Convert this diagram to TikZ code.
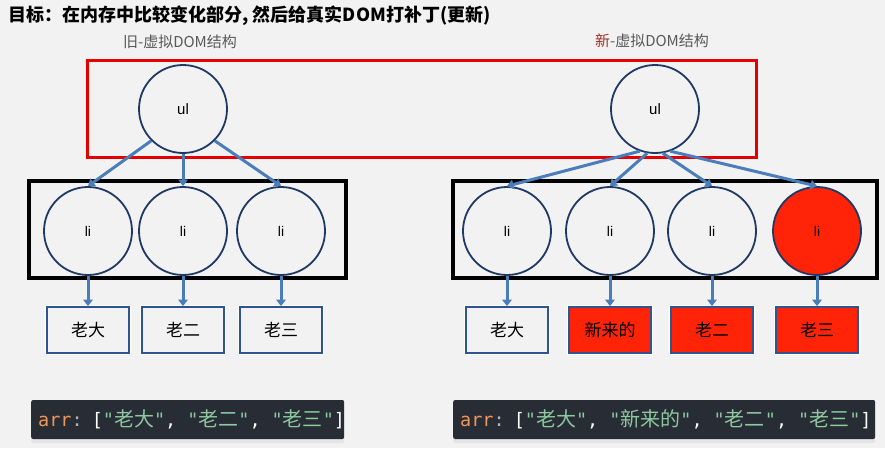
\documentclass[tikz,border=0pt]{standalone}
\usepackage{fontspec}
\setmainfont{Noto Sans CJK SC}
\newfontfamily\arialfont{Liberation Sans}
\newfontfamily\codefont{DejaVu Sans Mono}
\newfontfamily\cjkfont{Noto Sans CJK SC}
\usetikzlibrary{arrows.meta, shadows}

\definecolor{pagebg}{RGB}{242,242,242}
\definecolor{navy}{RGB}{31,56,100}
\definecolor{boxblue}{RGB}{46,85,146}
\definecolor{linkblue}{RGB}{74,126,187}
\definecolor{hotred}{RGB}{255,36,8}
\definecolor{framered}{RGB}{228,0,0}
\definecolor{subgray}{RGB}{89,89,89}
\definecolor{newmark}{RGB}{160,50,40}
\definecolor{codebg}{RGB}{40,44,52}
\definecolor{codeorange}{RGB}{240,150,90}
\definecolor{codegreen}{RGB}{140,200,160}
\definecolor{codecolon}{RGB}{175,180,185}

% one quoted string of the array, and the separator after it
\newcommand{\cstr}[1]{{\color{codegreen}"{\cjkfont\fontsize{20}{20}\selectfont #1}"}}
\newcommand{\cpun}[1]{{\color{white}#1}}
\newcommand{\csep}{\cpun{,}\hspace{11pt}}

\begin{document}
\begin{tikzpicture}[x=1pt, y=-1pt, >={Triangle[length=6.5pt, width=9.5pt]},
  treenode/.style={circle, draw=navy, line width=1.8pt, minimum size=88pt,
    inner sep=0pt, font=\arialfont\fontsize{14}{14}\selectfont},
  leafbox/.style={draw=boxblue, line width=1.8pt, minimum width=82pt,
    minimum height=46pt, inner sep=0pt, fill=pagebg,
    preaction={draw=white, line width=4.5pt},
    font=\fontsize{17}{17}\selectfont},
  link/.style={->, draw=linkblue, line width=3pt},
  subtitle/.style={text=subgray, font=\fontsize{15}{15}\selectfont},
  codebar/.style={anchor=west, fill=codebg, rounded corners=2pt,
    minimum height=39pt, inner xsep=7pt, inner ysep=0pt, align=left,
    font=\codefont\fontsize{18.5}{18.5}\selectfont,
    drop shadow={shadow xshift=0pt, shadow yshift=-4pt, opacity=0.12}}]

  % Background (fixes the page size)
  \fill[pagebg] (0,0) rectangle (885,448);

  % Titles
  \node[anchor=west, font=\bfseries\fontsize{18}{18}\selectfont] (goal) at (5,16)
    {目标：在内存中比较变化部分, 然后给真实DOM打补丁(更新)};
  \node[subtitle] (oldtitle) at (180,42) {旧-虚拟DOM结构};
  \node[subtitle] (newtitle) at (652,41) {{\color{newmark}新}-虚拟DOM结构};

  % Frames
  \draw[framered, line width=3pt] (87,60) rectangle (756,157);
  \draw[black, line width=3.5pt] (29,181) rectangle (346,278);
  \draw[black, line width=3.5pt] (453,181) rectangle (877,278);

  % Old tree
  \node[treenode, font=\arialfont\fontsize{15}{15}\selectfont] (oldul) at (183,109) {ul};
  \foreach \i/\x/\lab in {1/88/老大, 2/183/老二, 3/281/老三} {
    \node[treenode] (oldli\i) at (\x,231) {li};
    \node[leafbox] (oldbox\i) at (\x,330) {\lab};
    \draw[link] (oldli\i) -- (oldbox\i);
  }
  \draw[link] (oldul.-135) -- (oldli1.north);
  \draw[link] (oldul.south) -- (oldli2.north);
  \draw[link] (oldul.-45) -- (oldli3.north);

  % New tree (red = changed)
  \node[treenode, font=\arialfont\fontsize{15}{15}\selectfont] (newul) at (655,109) {ul};
  \foreach \i/\x/\lab/\cfill/\bfill in {1/507/老大/pagebg/pagebg,
      2/610/新来的/pagebg/hotred, 3/712/老二/pagebg/hotred,
      4/817/老三/hotred/hotred} {
    \node[treenode, fill=\cfill] (newli\i) at (\x,231) {li};
    \node[leafbox, fill=\bfill] (newbox\i) at (\x,330) {\lab};
    \draw[link] (newli\i) -- (newbox\i);
  }
  \foreach \i/\a in {1/-110, 2/-100, 3/-80, 4/-70}
    \draw[link] (newul.\a) -- (newli\i.north);

  % Arrays
  \node[codebar, text width=299pt] (oldarr) at (31,419.5)
    {\mbox{{\color{codeorange}arr}{\color{codecolon}:}\hspace{9pt}\cpun{[}%
     \cstr{老大}\csep\cstr{老二}\csep\cstr{老三}\cpun{]}}};
  \node[codebar, text width=408pt] (newarr) at (453,419.5)
    {\mbox{{\color{codeorange}arr}{\color{codecolon}:}\hspace{9pt}\cpun{[}%
     \cstr{老大}\csep\cstr{新来的}\csep\cstr{老二}\csep\cstr{老三}\cpun{]}}};
\end{tikzpicture}
\end{document}
